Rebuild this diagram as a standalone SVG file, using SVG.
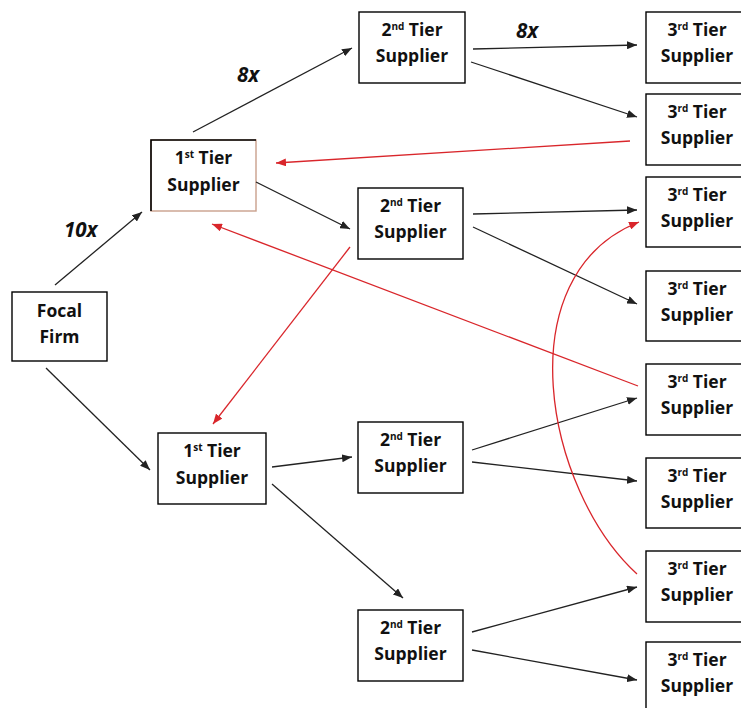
<svg xmlns="http://www.w3.org/2000/svg" width="741" height="708" viewBox="0 0 741 708">
<defs>
<style>
.box{fill:#fff;stroke:#000;stroke-width:1.4}
.t{font-family:"Open Sans",Lato,"Liberation Sans",sans-serif;font-weight:700;font-size:17.5px;fill:#111;text-anchor:middle}
.sup{font-size:10px}
.lbl{font-family:"Open Sans",Lato,"Liberation Sans",sans-serif;font-weight:700;font-style:italic;font-size:20.5px;fill:#111}
.k{stroke:#222;stroke-width:1.3;fill:none;marker-end:url(#ak)}
.r{stroke:#d9262b;stroke-width:1.3;fill:none;marker-end:url(#ar)}
</style>
<marker id="ak" markerUnits="userSpaceOnUse" markerWidth="10" markerHeight="8" refX="10" refY="4" orient="auto"><path d="M0,0 L10,4 L0,8 z" fill="#222"/></marker>
<marker id="ar" markerUnits="userSpaceOnUse" markerWidth="10" markerHeight="8" refX="10" refY="4" orient="auto"><path d="M0,0 L10,4 L0,8 z" fill="#d9262b"/></marker>
</defs>
<rect width="741" height="708" fill="#fff"/>

<g id="focal"><rect class="box" x="12" y="292" width="95" height="69"/><text class="t" x="59.5" y="317">Focal</text><text class="t" x="59.5" y="343">Firm</text></g>

<g id="t1a"><rect x="151" y="140" width="105" height="71" fill="#fff" stroke="#c9a08c" stroke-width="1.4"/><path d="M151,211 V140 H256" fill="none" stroke="#000" stroke-width="1.6"/><text class="t" x="203.5" y="164">1<tspan class="sup" dy="-6">st</tspan><tspan dy="6"> Tier</tspan></text><text class="t" x="203.5" y="191">Supplier</text></g>
<g id="t1b"><rect class="box" x="158" y="433" width="108" height="71"/><text class="t" x="212" y="457">1<tspan class="sup" dy="-6">st</tspan><tspan dy="6"> Tier</tspan></text><text class="t" x="212" y="484">Supplier</text></g>

<g id="t2a"><rect class="box" x="359" y="12" width="106" height="71"/><text class="t" x="412" y="36">2<tspan class="sup" dy="-6">nd</tspan><tspan dy="6"> Tier</tspan></text><text class="t" x="412" y="62">Supplier</text></g>
<g id="t2b"><rect class="box" x="358" y="188" width="105" height="71"/><text class="t" x="410.5" y="212">2<tspan class="sup" dy="-6">nd</tspan><tspan dy="6"> Tier</tspan></text><text class="t" x="410.5" y="238">Supplier</text></g>
<g id="t2c"><rect class="box" x="358" y="422" width="105" height="71"/><text class="t" x="410.5" y="446">2<tspan class="sup" dy="-6">nd</tspan><tspan dy="6"> Tier</tspan></text><text class="t" x="410.5" y="472">Supplier</text></g>
<g id="t2d"><rect class="box" x="358" y="610" width="105" height="71"/><text class="t" x="410.5" y="634">2<tspan class="sup" dy="-6">nd</tspan><tspan dy="6"> Tier</tspan></text><text class="t" x="410.5" y="660">Supplier</text></g>

<g id="t3a"><rect class="box" x="646" y="12" width="102" height="71"/><text class="t" x="697" y="36">3<tspan class="sup" dy="-6">rd</tspan><tspan dy="6"> Tier</tspan></text><text class="t" x="697" y="62">Supplier</text></g>
<g id="t3b"><rect class="box" x="646" y="94" width="102" height="71"/><text class="t" x="697" y="118">3<tspan class="sup" dy="-6">rd</tspan><tspan dy="6"> Tier</tspan></text><text class="t" x="697" y="144">Supplier</text></g>
<g id="t3c"><rect class="box" x="646" y="177" width="102" height="70"/><text class="t" x="697" y="201">3<tspan class="sup" dy="-6">rd</tspan><tspan dy="6"> Tier</tspan></text><text class="t" x="697" y="227">Supplier</text></g>
<g id="t3d"><rect class="box" x="646" y="271" width="102" height="70"/><text class="t" x="697" y="295">3<tspan class="sup" dy="-6">rd</tspan><tspan dy="6"> Tier</tspan></text><text class="t" x="697" y="321">Supplier</text></g>
<g id="t3e"><rect class="box" x="646" y="364" width="102" height="71"/><text class="t" x="697" y="388">3<tspan class="sup" dy="-6">rd</tspan><tspan dy="6"> Tier</tspan></text><text class="t" x="697" y="414">Supplier</text></g>
<g id="t3f"><rect class="box" x="646" y="458" width="102" height="70"/><text class="t" x="697" y="482">3<tspan class="sup" dy="-6">rd</tspan><tspan dy="6"> Tier</tspan></text><text class="t" x="697" y="508">Supplier</text></g>
<g id="t3g"><rect class="box" x="646" y="551" width="102" height="71"/><text class="t" x="697" y="575">3<tspan class="sup" dy="-6">rd</tspan><tspan dy="6"> Tier</tspan></text><text class="t" x="697" y="601">Supplier</text></g>
<g id="t3h"><rect class="box" x="646" y="642" width="102" height="71"/><text class="t" x="697" y="666">3<tspan class="sup" dy="-6">rd</tspan><tspan dy="6"> Tier</tspan></text><text class="t" x="697" y="692">Supplier</text></g>

<g id="connectors">
<line class="k" x1="55" y1="285" x2="142" y2="212"/>
<line class="k" x1="46" y1="368" x2="150" y2="470"/>
<line class="k" x1="193" y1="132" x2="352" y2="48"/>
<line class="k" x1="256" y1="182" x2="350" y2="229"/>
<line class="k" x1="473" y1="49" x2="637" y2="45"/>
<line class="k" x1="471" y1="62" x2="637" y2="117"/>
<line class="k" x1="473" y1="214" x2="637" y2="210"/>
<line class="k" x1="473" y1="227" x2="637" y2="304"/>
<line class="k" x1="272" y1="467" x2="352" y2="457"/>
<line class="k" x1="272" y1="484" x2="403" y2="598"/>
<line class="k" x1="472" y1="450" x2="637" y2="398"/>
<line class="k" x1="472" y1="462" x2="637" y2="481"/>
<line class="k" x1="472" y1="632" x2="637" y2="587"/>
<line class="k" x1="472" y1="650" x2="637" y2="680"/>
<line class="r" x1="630" y1="141" x2="276" y2="163"/>
<line class="r" x1="638" y1="386" x2="212" y2="224"/>
<line class="r" x1="350" y1="247" x2="213" y2="424"/>
<path class="r" d="M637,574 C545,490 505,275 639,222"/>
<text class="lbl" x="64" y="237">10x</text>
<text class="lbl" x="237" y="82">8x</text>
<text class="lbl" x="516" y="38">8x</text>
</g>
</svg>
